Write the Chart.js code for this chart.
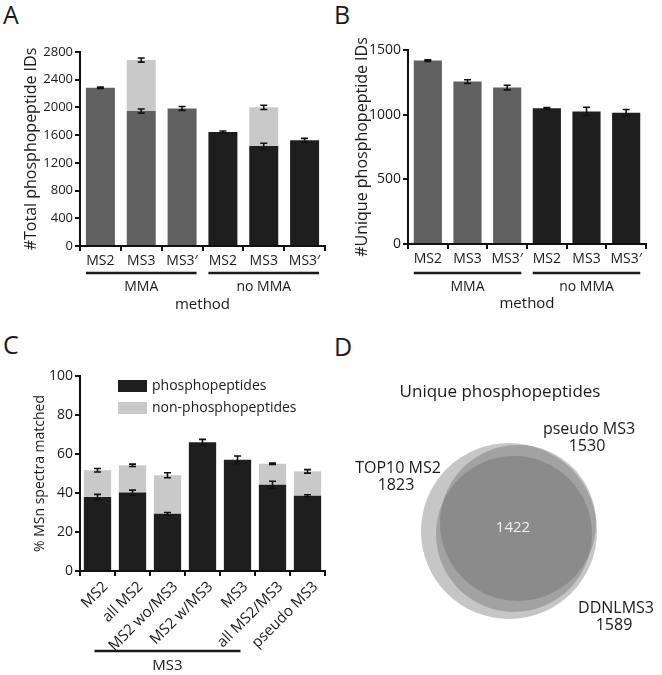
<!DOCTYPE html>
<html>
<head>
<meta charset="utf-8">
<script src="https://cdn.jsdelivr.net/npm/chart.js@4.4.1/dist/chart.umd.min.js"></script>
<style>
  body { margin: 0; background: #fff; width: 662px; height: 675px; position: relative; overflow: hidden; font-family: "Open Sans", sans-serif; }
  canvas { position: absolute; }
  .panel { position: absolute; font-size: 25px; line-height: 25px; color: #1a1a1a; }
</style>
</head>
<body>
<div class="panel" style="left:3px;top:2px">A</div>
<div class="panel" style="left:334px;top:2px">B</div>
<div class="panel" style="left:3px;top:332px">C</div>
<div class="panel" style="left:334px;top:334px">D</div>

<canvas id="chartA" width="330" height="322" style="left:0;top:0"></canvas>
<canvas id="chartB" width="332" height="322" style="left:330px;top:0"></canvas>
<canvas id="chartC" width="330" height="345" style="left:0;top:330px"></canvas>
<canvas id="chartD" width="332" height="345" style="left:330px;top:330px"></canvas>

<script>
// --- data ---
const methodLabels = ["MS2", "MS3", "MS3\u2032", "MS2", "MS3", "MS3\u2032"];
const methodGroups = [
  { label: "MMA", from: 0, to: 2 },
  { label: "no MMA", from: 3, to: 5 },
];

// A: total phosphopeptide IDs (dark part) + extra IDs found by MS3 (light part)
const totalIds = [2285, 1948, 1985, 1645, 1443, 1525];
const totalIdsErr = [10, 30, 28, 15, 40, 28];
const extraMs3Ids = [0, 736, 0, 0, 558, 0];
const extraMs3Err = [0, 30, 0, 0, 30, 0];

// B: unique phosphopeptide IDs
const uniqueIds = [1418, 1256, 1210, 1050, 1025, 1015];
const uniqueIdsErr = [6, 14, 18, 5, 32, 25];

// C: % MSn spectra matched
const spectraLabels = ["MS2", "all MS2", "MS2 wo/MS3", "MS2 w/MS3", "MS3", "all MS2/MS3", "pseudo MS3"];
const spectraGroups = [{ label: "MS3", from: 0, to: 4 }];
const phosphoPct = [38, 40.2, 29.3, 66, 57, 44.2, 38.6];
const phosphoErr = [1.3, 1.3, 0.7, 1.5, 2, 1.8, 0.5];
const nonPhosphoPct = [13.7, 14, 19.8, 0, 0, 10.8, 12.5];
const nonPhosphoErr = [0.9, 0.6, 1.3, 0, 0, 0.4, 0.9];

// D: Venn of unique phosphopeptides
const vennSets = ["TOP10 MS2", "pseudo MS3", "DDNLMS3"];
const vennCounts = [1823, 1530, 1589];
const vennOverlap = 1422;

// --- styling / layout ---
const MMA_GRAY = "#606060";
const NO_MMA_BLACK = "#1e1e1e";
const LIGHT_GRAY = "#c9c9c9";
const INK = "#1a1a1a";
const VENN_FILL = "rgba(100,100,100,0.37)";
// venn circle centres / radii in the hidden axis units (1 unit = 1px)
const vennLayout = [
  { x: -3, y: -1, r: 88 },
  { x: 6, y: 7, r: 78 },
  { x: 2, y: -4, r: 78 },
];
const vennLabelAnchors = [
  { x: -114, y: 62 },
  { x: 77, y: 101 },
  { x: 104, y: -78 },
];

Chart.defaults.font.family = "'Open Sans', sans-serif";
Chart.defaults.color = INK;

// error bars drawn at the top of every stacked segment
const errorBars = {
  id: "errorBars",
  afterDatasetsDraw(chart) {
    const ctx = chart.ctx;
    const y = chart.scales.y;
    ctx.save();
    ctx.strokeStyle = "#111";
    ctx.lineWidth = 1.6;
    chart.data.datasets.forEach((ds, di) => {
      if (!ds.errors) return;
      chart.getDatasetMeta(di).data.forEach((bar, i) => {
        const e = ds.errors[i];
        if (!e || !ds.data[i]) return;
        const h = Math.abs(y.getPixelForValue(0) - y.getPixelForValue(e));
        const cap = 3.5;
        ctx.beginPath();
        ctx.moveTo(bar.x, bar.y - h);
        ctx.lineTo(bar.x, bar.y + h);
        ctx.moveTo(bar.x - cap, bar.y - h);
        ctx.lineTo(bar.x + cap, bar.y - h);
        ctx.moveTo(bar.x - cap, bar.y + h);
        ctx.lineTo(bar.x + cap, bar.y + h);
        ctx.stroke();
      });
    });
    ctx.restore();
  },
};

// group brackets under the category axis + axis title
const groupLabels = {
  id: "groupLabels",
  afterDraw(chart, args, opts) {
    const { ctx, chartArea, scales: { x } } = chart;
    const bar0 = chart.getDatasetMeta(0).data[0];
    const ext = opts.extend === "bar" ? bar0.width / 2 : opts.extend;
    ctx.save();
    ctx.strokeStyle = INK;
    ctx.fillStyle = INK;
    ctx.lineWidth = 2.5;
    ctx.textAlign = "center";
    ctx.textBaseline = "middle";
    ctx.font = opts.labelSize + "px 'Open Sans'";
    opts.groups.forEach((g) => {
      const x1 = x.getPixelForValue(g.from) - ext;
      const x2 = x.getPixelForValue(g.to) + ext;
      const yl = chartArea.bottom + opts.lineOffset;
      ctx.beginPath();
      ctx.moveTo(x1, yl);
      ctx.lineTo(x2, yl);
      ctx.stroke();
      ctx.fillText(g.label, (x1 + x2) / 2, chartArea.bottom + opts.labelOffset);
    });
    if (opts.title) {
      ctx.font = opts.titleSize + "px 'Open Sans'";
      ctx.fillText(opts.title, (chartArea.left + chartArea.right) / 2, chartArea.bottom + opts.titleOffset);
    }
    ctx.restore();
  },
};

// simple box legend placed inside the plot
const boxLegend = {
  id: "boxLegend",
  afterDraw(chart, args, opts) {
    if (!opts.show) return;
    const ctx = chart.ctx;
    ctx.save();
    ctx.textBaseline = "middle";
    ctx.textAlign = "left";
    ctx.font = opts.size + "px 'Open Sans'";
    chart.data.datasets.forEach((ds, i) => {
      const top = opts.y + i * opts.gap;
      ctx.fillStyle = ds.backgroundColor;
      ctx.fillRect(opts.x, top, opts.boxW, opts.boxH);
      ctx.fillStyle = INK;
      ctx.fillText(ds.label, opts.x + opts.boxW + 5, top + opts.boxH / 2);
    });
    ctx.restore();
  },
};

function axisLook() {
  return {
    grid: { drawOnChartArea: false, drawTicks: true, tickLength: 5, color: "#111", lineWidth: 2 },
    border: { display: true, color: "#111", width: 2 },
  };
}

function barOptions(cfg) {
  return {
    responsive: false,
    devicePixelRatio: 1,
    animation: false,
    events: [],
    layout: { padding: { top: cfg.top, right: cfg.right, left: 0, bottom: 0 } },
    datasets: { bar: { categoryPercentage: 1, barPercentage: cfg.barPct } },
    scales: {
      x: {
        stacked: true,
        ...axisLook(),
        ticks: { color: INK, font: { size: cfg.xSize }, padding: 2, autoSkip: false,
                 minRotation: cfg.rot, maxRotation: cfg.rot, labelOffset: cfg.xShift || 0 },
        afterFit(s) { s.height = cfg.xHeight; },
      },
      y: {
        stacked: true,
        min: 0,
        max: cfg.max,
        ...axisLook(),
        ticks: { stepSize: cfg.step, color: INK, font: { size: cfg.ySize }, padding: 2,
                 format: { useGrouping: false } },
        title: { display: true, text: cfg.yTitle, color: INK, font: { size: cfg.titleSize },
                 padding: { top: cfg.titleX, bottom: 0 } },
        afterFit(s) { s.width = cfg.yWidth; },
      },
    },
    plugins: {
      legend: { display: false },
      tooltip: { enabled: false },
      groupLabels: cfg.groups,
      boxLegend: cfg.legend || { show: false },
    },
  };
}

const byGroup = (ctx) => (ctx.dataIndex < 3 ? MMA_GRAY : NO_MMA_BLACK);

// A
new Chart(document.getElementById("chartA"), {
  type: "bar",
  data: {
    labels: methodLabels,
    datasets: [
      { label: "phosphopeptide IDs", data: totalIds, errors: totalIdsErr, backgroundColor: byGroup },
      { label: "additional MS3 IDs", data: extraMs3Ids, errors: extraMs3Err, backgroundColor: LIGHT_GRAY },
    ],
  },
  options: barOptions({
    top: 52, right: 5, barPct: 0.71, xSize: 14, rot: 0, xHeight: 76,
    max: 2800, step: 400, ySize: 13, yTitle: "#Total phosphopeptide IDs", titleSize: 16, titleX: 22, yWidth: 80,
    groups: { groups: methodGroups, extend: "bar", lineOffset: 27, labelOffset: 41, labelSize: 14,
              title: "method", titleOffset: 59, titleSize: 15 },
  }),
  plugins: [errorBars, groupLabels, boxLegend],
});

// B
new Chart(document.getElementById("chartB"), {
  type: "bar",
  data: {
    labels: methodLabels,
    datasets: [
      { label: "unique phosphopeptide IDs", data: uniqueIds, errors: uniqueIdsErr, backgroundColor: byGroup },
    ],
  },
  options: barOptions({
    top: 50, right: 16, barPct: 0.71, xSize: 14, rot: 0, xHeight: 78,
    max: 1500, step: 500, ySize: 14, yTitle: "#Unique phosphopeptide IDs", titleSize: 16, titleX: 23, yWidth: 78,
    groups: { groups: methodGroups, extend: "bar", lineOffset: 29, labelOffset: 43, labelSize: 14,
              title: "method", titleOffset: 60, titleSize: 15 },
  }),
  plugins: [errorBars, groupLabels, boxLegend],
});

// C
new Chart(document.getElementById("chartC"), {
  type: "bar",
  data: {
    labels: spectraLabels,
    datasets: [
      { label: "phosphopeptides", data: phosphoPct, errors: phosphoErr, backgroundColor: NO_MMA_BLACK },
      { label: "non-phosphopeptides", data: nonPhosphoPct, errors: nonPhosphoErr, backgroundColor: LIGHT_GRAY },
    ],
  },
  options: barOptions({
    top: 46, right: 5, barPct: 0.78, xSize: 15, rot: 45, xShift: 8, xHeight: 104,
    max: 100, step: 20, ySize: 14, yTitle: "% MSn spectra matched", titleSize: 14, titleX: 32, yWidth: 80,
    groups: { groups: spectraGroups, extend: 3, lineOffset: 80, labelOffset: 95, labelSize: 15 },
    legend: { show: true, x: 118, y: 50, boxW: 29, boxH: 12, gap: 22, size: 14 },
  }),
  plugins: [errorBars, groupLabels, boxLegend],
});

// D: Venn drawn as a bubble chart on hidden linear axes
const vennText = {
  id: "vennText",
  afterDraw(chart) {
    const { ctx, scales: { x, y } } = chart;
    ctx.save();
    ctx.textAlign = "center";
    ctx.textBaseline = "middle";
    ctx.fillStyle = INK;
    ctx.font = "17px 'Open Sans'";
    ctx.fillText("Unique phosphopeptides", x.getPixelForValue(-12), y.getPixelForValue(138));
    ctx.font = "16px 'Open Sans'";
    vennSets.forEach((name, i) => {
      const a = vennLabelAnchors[i];
      ctx.fillText(name, x.getPixelForValue(a.x), y.getPixelForValue(a.y));
      ctx.fillText(String(vennCounts[i]), x.getPixelForValue(a.x - 2), y.getPixelForValue(a.y - 17));
    });
    ctx.fillStyle = "#f2f2f2";
    ctx.font = "15px 'Open Sans'";
    ctx.fillText(String(vennOverlap), x.getPixelForValue(1), y.getPixelForValue(2));
    ctx.restore();
  },
};

new Chart(document.getElementById("chartD"), {
  type: "bubble",
  data: {
    datasets: vennSets.map((name, i) => ({
      label: name,
      data: [{ x: vennLayout[i].x, y: vennLayout[i].y, r: vennLayout[i].r }],
      backgroundColor: VENN_FILL,
      borderWidth: 0,
    })),
  },
  options: {
    responsive: false,
    devicePixelRatio: 1,
    animation: false,
    events: [],
    layout: { padding: 0, autoPadding: false },
    scales: {
      x: { type: "linear", display: false, min: -182, max: 150 },
      y: { type: "linear", display: false, min: -145, max: 200 },
    },
    plugins: { legend: { display: false }, tooltip: { enabled: false } },
  },
  plugins: [vennText],
});
</script>
</body>
</html>
